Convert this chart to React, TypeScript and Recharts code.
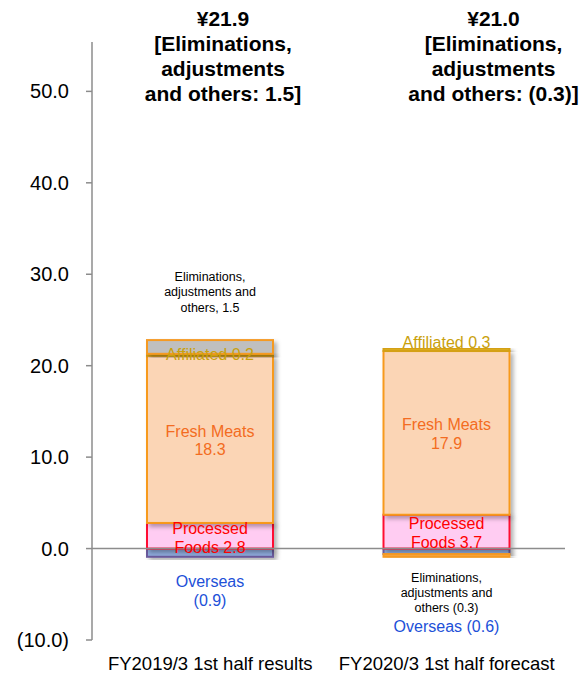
import React from 'react';
import { BarChart, Bar, XAxis, YAxis, ReferenceLine, LabelList } from 'recharts';

const categories = ['FY2019/3 1st half results', 'FY2020/3 1st half forecast'];
const overseas = [-0.9, -0.6];
const processedFoods = [2.8, 3.7];
const freshMeats = [18.3, 17.9];
const affiliated = [0.2, 0.3];
const eliminations = [1.5, -0.3];
const yTicks = [-10, 0, 10, 20, 30, 40, 50];

const data = categories.map((name, i) => ({
    name,
    overseas: overseas[i],
    processed: processedFoods[i],
    fresh: freshMeats[i],
    affiliated: affiliated[i],
    elim: eliminations[i],
    total: overseas[i] + processedFoods[i] + freshMeats[i] + affiliated[i] + eliminations[i],
}));

const FONT = '"Liberation Sans", Arial, sans-serif';
const elimFills = ['#bfbfbf', '#f7a440'];

const fmt = (v: number) => (v < 0 ? `(${Math.abs(v).toFixed(1)})` : v.toFixed(1));

// draws centred lines, first line centred on y0
function lines(cx: number, y0: number, rows: string[], lh: number, fs: number, color: string, bold = false, key?: string) {
    return (
        <text key={key} textAnchor="middle" fontSize={fs} fill={color} fontFamily={FONT} fontWeight={bold ? 'bold' : 'normal'}>
            {rows.map((t, i) => (
                <tspan key={i} x={cx} y={y0 + i * lh + fs * 0.36}>
                    {t}
                </tspan>
            ))}
        </text>
    );
}

const box = (p: any) => {
    const y = Number(p.y), h = Number(p.height);
    const top = Math.min(y, y + h);
    const bottom = Math.max(y, y + h);
    return { cx: Number(p.x) + Number(p.width) / 2, top, bottom, cy: (top + bottom) / 2 };
};

const makeShape = (fill: string | string[], stroke: string) => (p: any) => {
    const { top, bottom } = box(p);
    const f = Array.isArray(fill) ? fill[p.index] : fill;
    return (
        <rect x={p.x} y={top} width={p.width} height={Math.max(bottom - top, 0.5)} fill={f} stroke={stroke} strokeWidth={2} filter="url(#barShadow)" />
    );
};

export default function App() {
    return (
        <div style={{ position: 'absolute', left: 0, top: 0, width: 582, height: 674, background: '#fff' }}>
            <BarChart
                width={582}
                height={674}
                data={data}
                stackOffset="sign"
                barSize={126}
                margin={{ top: 42, right: 17, left: 12, bottom: 4 }}
            >
                <defs>
                    <filter id="barShadow" x="-10%" y="-10%" width="130%" height="140%">
                        <feDropShadow dx="3" dy="3" stdDeviation="2" floodColor="#000" floodOpacity="0.3" />
                    </filter>
                </defs>
                <XAxis
                    dataKey="name"
                    axisLine={false}
                    tickLine={false}
                    height={30}
                    tickMargin={11}
                    tick={{ fontSize: 18.5, fill: '#000', fontFamily: FONT }}
                    interval={0}
                />
                <YAxis
                    domain={[-10, 55.4]}
                    ticks={yTicks}
                    width={80}
                    tickSize={6}
                    tickMargin={17}
                    stroke="#8c8c8c"
                    strokeWidth={1.5}
                    tickFormatter={fmt}
                    tick={{ fontSize: 20, fill: '#000', fontFamily: FONT }}
                    allowDataOverflow
                />
                <ReferenceLine y={0} stroke="#8c8c8c" strokeWidth={1.5} />
                <Bar dataKey="overseas" stackId="a" isAnimationActive={false} shape={makeShape('#8eaadc', '#6a5a9c')}>
                    <LabelList
                        dataKey="overseas"
                        content={(p: any) => {
                            const b = box(p);
                            const v = Number(p.value);
                            return p.index === 0
                                ? lines(b.cx, b.bottom + 24.5, ['Overseas', fmt(v)], 18.5, 16, '#2150d8')
                                : lines(b.cx, b.bottom + 72, [`Overseas ${fmt(v)}`], 18, 16, '#2150d8');
                        }}
                    />
                </Bar>
                <Bar dataKey="processed" stackId="a" isAnimationActive={false} shape={makeShape('#ffccf2', '#ff1030')}>
                    <LabelList
                        dataKey="processed"
                        content={(p: any) => {
                            const b = box(p);
                            return lines(b.cx, b.cy - 8, ['Processed', `Foods ${fmt(Number(p.value))}`], 19, 16, '#ff0000');
                        }}
                    />
                </Bar>
                <Bar dataKey="fresh" stackId="a" isAnimationActive={false} shape={makeShape('#fbd5b5', '#f79a1e')}>
                    <LabelList
                        dataKey="fresh"
                        content={(p: any) => {
                            const b = box(p);
                            return lines(b.cx, b.cy - 8.5, ['Fresh Meats', fmt(Number(p.value))], 18.5, 16, '#f36c21');
                        }}
                    />
                </Bar>
                <Bar dataKey="affiliated" stackId="a" isAnimationActive={false} shape={makeShape('#dcb01c', '#d4a017')}>
                    <LabelList
                        dataKey="affiliated"
                        content={(p: any) => {
                            const b = box(p);
                            const y0 = p.index === 0 ? b.top : b.top - 6.5;
                            return lines(b.cx, y0, [`Affiliated ${fmt(Number(p.value))}`], 18, 16, '#c9a10c');
                        }}
                    />
                </Bar>
                <Bar dataKey="elim" stackId="a" isAnimationActive={false} shape={makeShape(elimFills, '#f59a23')}>
                    <LabelList
                        dataKey="elim"
                        content={(p: any) => {
                            const b = box(p);
                            const v = Number(p.value);
                            const i = p.index;
                            const d = data[i];
                            const side =
                                i === 0
                                    ? lines(b.cx, b.top - 64, ['Eliminations,', 'adjustments and', `others, ${fmt(v)}`], 15.5, 12.5, '#000', false, 's')
                                    : lines(b.cx, b.bottom + 20.5, ['Eliminations,', 'adjustments and', `others ${fmt(v)}`], 15, 12.5, '#000', false, 's');
                            const headX = b.cx + (i === 0 ? 13 : 47);
                            const head = lines(
                                headX,
                                18,
                                [`¥${d.total.toFixed(1)}`, '[Eliminations,', 'adjustments', `and others: ${fmt(v)}]`],
                                25,
                                21,
                                '#000',
                                true,
                                'h'
                            );
                            return (
                                <g>
                                    {side}
                                    {head}
                                </g>
                            );
                        }}
                    />
                </Bar>
            </BarChart>
        </div>
    );
}
